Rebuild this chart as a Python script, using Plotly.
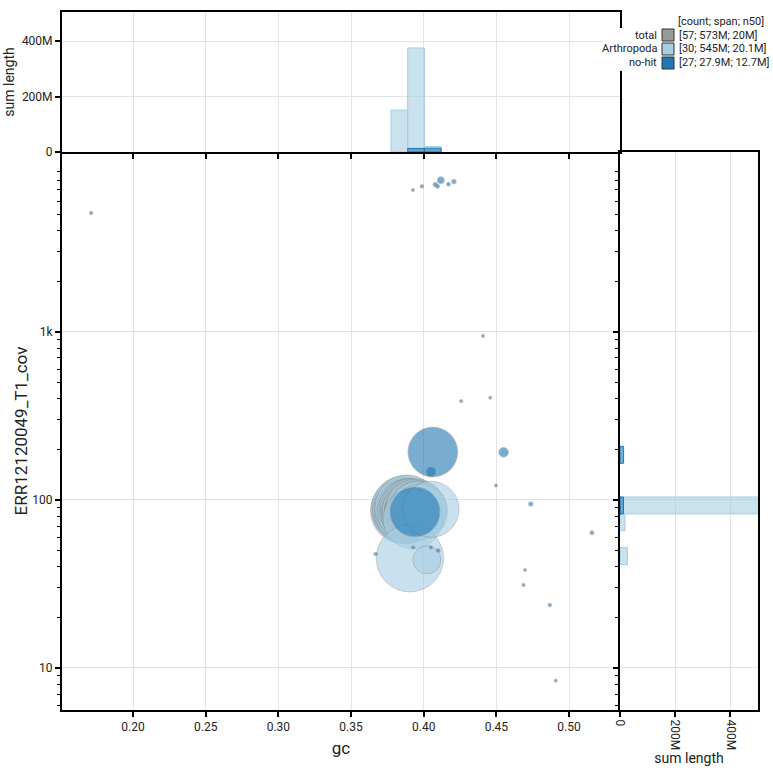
import numpy as np
import plotly.graph_objects as go

# ---------------- data ----------------
categories = ["Arthropoda", "no-hit"]

arth_gc = [0.3858, 0.3864, 0.3870, 0.3876, 0.3880, 0.3884, 0.3887,
           0.3893, 0.3896, 0.3900, 0.3903, 0.3907, 0.3910, 0.3914, 0.3918, 0.3922, 0.3926,
           0.3930, 0.3934, 0.3938, 0.3943, 0.3948, 0.3953, 0.3958, 0.3965, 0.3972,
           0.3925, 0.3905, 0.4022, 0.4050]
arth_cov = [86, 88, 85, 89, 87, 86, 90,
            87, 85, 88, 86, 89, 84, 87, 90, 86, 85,
            88, 87, 86, 89, 85, 87, 86, 88, 85,
            77, 45, 44, 88]
arth_len_m = [21.5, 22.0, 21.0, 22.5, 21.5, 21.0, 21.5,
              20.1, 19.5, 18.8, 18.2, 17.9, 17.6, 17.3, 17.0, 18.5, 16.8,
              17.2, 16.5, 18.0, 17.7, 16.9, 17.4, 16.6, 16.2, 15.8,
              18.0, 23.0, 4.0, 16.0]

nohit_gc = [0.3940, 0.4063, 0.1711, 0.3926, 0.3988, 0.4079, 0.4096, 0.4118, 0.4171,
            0.4208, 0.4409, 0.4258, 0.4458, 0.4550, 0.4050, 0.4497, 0.4737, 0.5158,
            0.3669, 0.3928, 0.4050, 0.4100, 0.4698, 0.4687, 0.4868, 0.4909]
nohit_cov = [85, 193, 5110, 7000, 7360, 7540, 7360, 8000, 7570,
             7850, 947, 388, 406, 192, 147, 122, 94.6, 63.8,
             47.7, 52.2, 52.2, 50.0, 38.3, 31.2, 23.7, 8.4]
nohit_len_k = [12600, 12600, 60, 50, 70, 100, 90, 250, 80,
               110, 45, 55, 50, 480, 500, 40, 110, 90,
               70, 60, 55, 80, 50, 60, 70, 40]

legend_labels = ["total", "Arthropoda", "no-hit"]
legend_stats = ["[57; 573M; 20M]", "[30; 545M; 20.1M]", "[27; 27.9M; 12.7M]"]
legend_title = "[count; span; n50]"

gc_ticks = [0.20, 0.25, 0.30, 0.35, 0.40, 0.45, 0.50]
gc_ticktext = ["0.20", "0.25", "0.30", "0.35", "0.40", "0.45", "0.50"]
cov_ticks = [10, 100, 1000]
cov_ticktext = ["10", "100", "1k"]
len_ticks = [0, 200e6, 400e6]
len_ticktext = ["0", "200M", "400M"]

# histogram bins (gc linear, coverage log10)
gc_edges = 0.389 + 0.0115 * np.arange(-21, 14)
logcov_edges = 1.917 + 0.1005 * np.arange(-12, 23)
MIN_BAR = 1e6  # bins with less than this are invisible at this scale

# ---------------- styles ----------------
LIGHT = "#a6cee3"
DARK = "#1f78b4"
GREY = "#999999"
W = 773.0
def px(x): return x / W
def py(y): return 1 - y / W

X0, X1, XR = px(62), px(620), px(758)
Y0, Y1, YT = py(710), py(152), py(12)
GC_RANGE = [0.1511, 0.5351]
LOGCOV_RANGE = [0.75, 4.071]

arth_len = np.array(arth_len_m) * 1e6
nohit_len = np.array(nohit_len_k) * 1e3

fig = go.Figure()

SIZEREF = 10160

def scatter(gc, cov, ln, color, name):
    return go.Scatter(
        x=gc, y=cov, mode="markers", name=name, xaxis="x", yaxis="y",
        marker=dict(size=ln, sizemode="area", sizeref=SIZEREF, sizemin=1.6,
                    color=color, opacity=0.6,
                    line=dict(color="#8a8a8a", width=0.7)),
        hoverinfo="skip")

fig.add_trace(scatter(arth_gc, arth_cov, arth_len, LIGHT, "Arthropoda"))
fig.add_trace(scatter(nohit_gc, nohit_cov, nohit_len, DARK, "no-hit"))

def rgba(hexc, a):
    h = hexc.lstrip("#")
    return "rgba(%d,%d,%d,%s)" % (int(h[0:2], 16), int(h[2:4], 16), int(h[4:6], 16), a)

for gc, cov, ln, color in [(arth_gc, arth_cov, arth_len, LIGHT),
                           (nohit_gc, nohit_cov, nohit_len, DARK)]:
    # top histogram
    hv, _ = np.histogram(gc, bins=gc_edges, weights=ln)
    xs, ys = [], []
    for a, b, v in zip(gc_edges[:-1], gc_edges[1:], hv):
        if v > MIN_BAR:
            xs += [a, a, b, b, a, None]
            ys += [0, v, v, 0, 0, None]
    fig.add_trace(go.Scatter(x=xs, y=ys, xaxis="x2", yaxis="y2", mode="lines",
                             fill="toself", fillcolor=rgba(color, 0.6),
                             line=dict(color=color, width=1), hoverinfo="skip"))
    # right histogram
    hv, _ = np.histogram(np.log10(cov), bins=logcov_edges, weights=ln)
    xs, ys = [], []
    for a, b, v in zip(logcov_edges[:-1], logcov_edges[1:], hv):
        if v > MIN_BAR:
            xs += [0, v, v, 0, 0, None]
            ys += [10 ** a, 10 ** a, 10 ** b, 10 ** b, 10 ** a, None]
    fig.add_trace(go.Scatter(x=xs, y=ys, xaxis="x3", yaxis="y3", mode="lines",
                             fill="toself", fillcolor=rgba(color, 0.6),
                             line=dict(color=color, width=1), hoverinfo="skip"))

GRID = "#e3e3e3"
TICKFONT = dict(family="Roboto", size=12, color="#222")
def axis_style(mirror):
    return dict(showline=True, linecolor="black", linewidth=2, mirror=mirror,
                ticks="outside", ticklen=5, tickwidth=1.5, tickcolor="black",
                showgrid=True, gridcolor=GRID, gridwidth=1, zeroline=False,
                tickfont=TICKFONT, automargin=False)

minor_vals = [m * d for d in [1, 10, 100, 1000] for m in range(2, 10)]
log_minor = dict(ticks="outside", ticklen=3, tickwidth=1, tickcolor="black",
                 tickmode="array", tickvals=minor_vals, showgrid=False)

fig.update_layout(
    width=773, height=773,
    margin=dict(l=0, r=0, t=0, b=0),
    paper_bgcolor="white", plot_bgcolor="white",
    showlegend=False,
    font=dict(family="Roboto", size=12, color="#222"),
    xaxis=dict(domain=[X0, X1], range=GC_RANGE, anchor="y",
               tickmode="array", tickvals=gc_ticks, ticktext=gc_ticktext,
               title=dict(text="gc", font=dict(family="Roboto", size=17, color="#222"), standoff=9),
               **axis_style(False)),
    yaxis=dict(domain=[Y0, Y1], type="log", range=LOGCOV_RANGE, anchor="x",
               tickmode="array", tickvals=cov_ticks, ticktext=cov_ticktext,
               minor=log_minor,
               title=dict(text="ERR12120049_T1_cov", font=dict(family="Roboto", size=17, color="#222"), standoff=0),
               **axis_style(False)),
    xaxis2=dict(domain=[X0, X1], range=GC_RANGE, anchor="y2",
                tickmode="array", tickvals=gc_ticks, showticklabels=False,
                **axis_style(True)),
    yaxis2=dict(domain=[Y1, YT], range=[0, 504.5e6], anchor="x2",
                tickmode="array", tickvals=len_ticks, ticktext=len_ticktext,
                title=dict(text="sum length", font=dict(family="Roboto", size=14, color="#222"), standoff=4),
                **axis_style(True)),
    xaxis3=dict(domain=[X1, XR], range=[0, 500e6], anchor="y3",
                tickmode="array", tickvals=len_ticks, ticktext=len_ticktext, tickangle=90,
                title=dict(text="sum length", font=dict(family="Roboto", size=14, color="#222"), standoff=2),
                **axis_style(True)),
    yaxis3=dict(domain=[Y0, Y1], type="log", range=LOGCOV_RANGE, anchor="x3",
                tickmode="array", tickvals=cov_ticks, showticklabels=False,
                minor=log_minor,
                **axis_style(True)),
)

# ---------------- legend (custom) ----------------
shapes = [dict(type="rect", xref="paper", yref="paper", layer="above",
               x0=px(603), x1=px(773), y0=py(71), y1=py(28),
               fillcolor="white", line=dict(width=0))]
annotations = [dict(x=px(676), y=py(21), xref="paper", yref="paper", text=legend_title,
                    showarrow=False, xanchor="left", yanchor="middle",
                    font=dict(family="Roboto", size=11, color="#222"))]
sq_colors = [GREY, LIGHT, DARK]
row_y = [35, 49, 63]
for lab, st, col, yy in zip(legend_labels, legend_stats, sq_colors, row_y):
    shapes.append(dict(type="rect", xref="paper", yref="paper", layer="above",
                       x0=px(662), x1=px(674), y0=py(yy + 6), y1=py(yy - 6),
                       fillcolor=col, line=dict(color="#333", width=1)))
    annotations.append(dict(x=px(659), y=py(yy), xref="paper", yref="paper", text=lab,
                            showarrow=False, xanchor="right", yanchor="middle",
                            font=dict(family="Roboto", size=11, color="#222")))
    annotations.append(dict(x=px(677), y=py(yy), xref="paper", yref="paper", text=st,
                            showarrow=False, xanchor="left", yanchor="middle",
                            font=dict(family="Roboto", size=11, color="#222")))
fig.update_layout(shapes=shapes, annotations=annotations)

fig.write_html("out.html")
